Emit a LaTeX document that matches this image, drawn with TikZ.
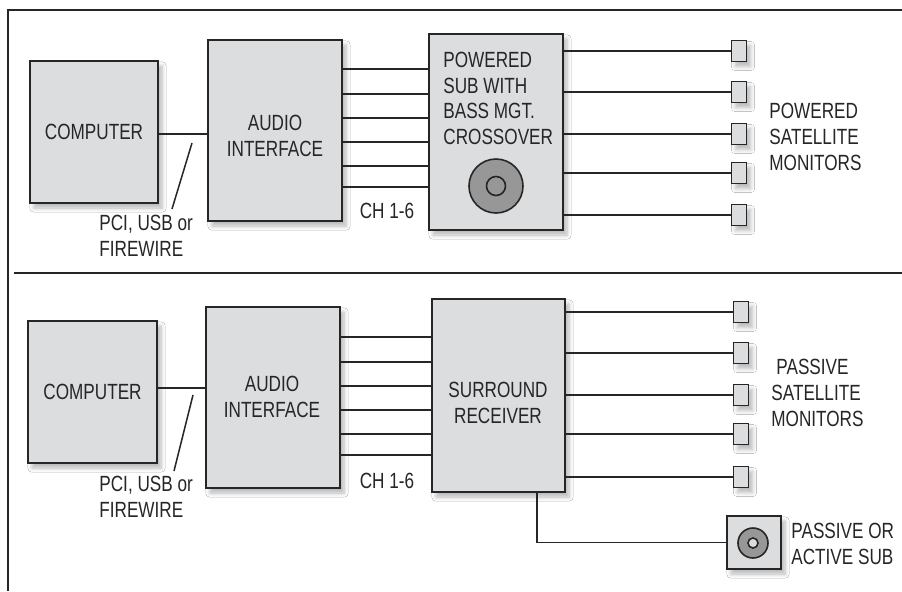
\documentclass[tikz,border=0pt]{standalone}
\usepackage{fontspec}
\setmainfont{Liberation Sans}[FakeStretch=0.78]
\usetikzlibrary{positioning,shadows.blur}
\definecolor{BoxGray}{HTML}{DCDDDF}
\definecolor{ConeGray}{HTML}{979797}
\definecolor{InkDark}{HTML}{262626}

\tikzset{
  box/.style={draw=InkDark,line width=.9pt,fill=BoxGray,inner sep=0pt,
    blur shadow={shadow xshift=2pt,shadow yshift=-2.5pt,shadow blur steps=6,shadow opacity=28}},
  spk/.style={box,minimum width=7.5pt,minimum height=10.5pt},
  wire/.style={draw=InkDark,line width=.75pt},
  txt/.style={font=\fontsize{11}{12.8}\selectfont,text=InkDark,align=left,inner sep=0pt},
}

\begin{document}
\begin{tikzpicture}[x=.5pt,y=-.5pt]
  \useasboundingbox (0,0) rectangle (902,591);
  \fill[white] (0,0) rectangle (902,591);
  % frame
  \draw[wire,line width=.8pt] (902,10) -- (8,10) -- (8,591);
  \draw[wire,line width=.8pt] (14,273) -- (902,273);

  % ---- powered sub setup
  \node[box,minimum width=64pt,minimum height=71pt] (comp1) at (94,132) {};
  \node[txt] (comp1txt) at (comp1) {COMPUTER};
  \node[box,minimum width=67pt,minimum height=90.5pt] (ai1) at (275,130.5) {};
  \node[txt,align=center] (ai1txt) at (275,136) {AUDIO\\INTERFACE};
  \node[box,minimum width=67pt,minimum height=98pt] (sub1) at (496,132) {};
  \node[txt,anchor=north west] (sub1txt) at (443,52) {POWERED\\SUB WITH\\BASS MGT.\\CROSSOVER};
  \node[circle,draw=InkDark,line width=.8pt,fill=ConeGray,minimum size=27pt,inner sep=0pt] (cone1) at (496,186) {};
  \node[circle,draw=InkDark,line width=.8pt,fill=ConeGray,minimum size=9.5pt,inner sep=0pt] (cap1) at (cone1) {};
  \draw[wire] (comp1.east |- 0,134) -- (ai1.west |- 0,134);
  \coordinate (sl1a) at (192,143);
  \coordinate (sl1b) at (172,209);
  \draw[wire] (sl1a) -- (sl1b);
  \node[txt,anchor=west] (pci1) at (99,236) {PCI, USB or\\FIREWIRE};
  \foreach \y in {69,94,118,142,166,187}
    \draw[wire] (ai1.east |- 0,\y) -- (sub1.west |- 0,\y);
  \node[txt] (ch1) at (387,211) {CH 1-6};
  \foreach \y [count=\i] in {51,92,134,173,215}{
    \node[spk] (sat1\i) at (739,\y) {};
    \draw[wire] (sub1.east |- sat1\i) -- (sat1\i.west);
  }
  \node[txt,anchor=west] (sat1lbl) at (769,137) {POWERED\\SATELLITE\\MONITORS};

  % ---- receiver setup
  \node[box,minimum width=64.5pt,minimum height=71pt] (comp2) at (92.5,392) {};
  \node[txt] (comp2txt) at (comp2) {COMPUTER};
  \node[box,minimum width=67pt,minimum height=90.5pt] (ai2) at (273,397.5) {};
  \node[txt,align=center] (ai2txt) at (272,397) {AUDIO\\INTERFACE};
  \node[box,minimum width=66.5pt,minimum height=96.5pt] (recv) at (498.5,395.5) {};
  \node[txt,align=center] (recvtxt) at (498,403) {SURROUND\\RECEIVER};
  \draw[wire] (comp2.east |- 0,388) -- (ai2.west |- 0,388);
  \coordinate (sl2a) at (193,395);
  \coordinate (sl2b) at (174,471);
  \draw[wire] (sl2a) -- (sl2b);
  \node[txt,anchor=west] (pci2) at (99,497) {PCI, USB or\\FIREWIRE};
  \foreach \y in {337,362,386,410,434,455}
    \draw[wire] (ai2.east |- 0,\y) -- (recv.west |- 0,\y);
  \node[txt] (ch2) at (387,481) {CH 1-6};
  \foreach \y [count=\i] in {312,353,395,434,477}{
    \node[spk] (sat2\i) at (741,\y) {};
    \draw[wire] (recv.east |- sat2\i) -- (sat2\i.west);
  }
  \node[txt,anchor=west] (sat2lbl) at (771,393) {\hspace{2.5pt}PASSIVE\\SATELLITE\\MONITORS};
  \node[box,minimum width=27pt,minimum height=26.5pt] (sub2) at (754,542.5) {};
  \node[circle,draw=InkDark,line width=.8pt,fill=ConeGray,minimum size=15pt,inner sep=0pt] (cone2) at (753,543) {};
  \node[circle,draw=InkDark,line width=.8pt,fill=BoxGray,minimum size=5pt,inner sep=0pt] (cap2) at (cone2) {};
  \draw[wire] (recv.south -| 537,0) |- (sub2.west);
  \node[txt,anchor=west] (sub2lbl) at (791,544) {PASSIVE OR\\ACTIVE SUB};
\end{tikzpicture}
\end{document}
